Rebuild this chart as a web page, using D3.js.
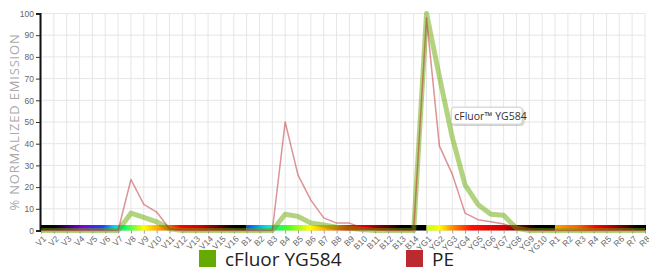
<!DOCTYPE html>
<html>
<head>
<meta charset="utf-8">
<script src="https://cdn.jsdelivr.net/npm/d3@7"></script>
<style>
  body { margin: 0; background: #fff; }
  svg { display: block; font-family: "Open Sans", sans-serif; }
  .grid line { stroke: #e6e6e6; stroke-width: 1; }
  .tick text { fill: #666; }
</style>
</head>
<body>
<div id="chart"></div>
<script>

var categories = ["V1","V2","V3","V4","V5","V6","V7","V8","V9","V10","V11","V12","V13","V14","V15","V16",
	"B1","B2","B3","B4","B5","B6","B7","B8","B9","B10","B11","B12","B13","B14",
	"YG1","YG2","YG3","YG4","YG5","YG6","YG7","YG8","YG9","YG10",
	"R1","R2","R3","R4","R5","R6","R7","R8"];

var cfluorValues = [0,0,0,0,0,0,0,8,6,4,0.8,0,0,0,0,0,
	0,0,0,7.5,6.5,3.5,2.5,1.5,1,0.5,0,0,0,0,
	100,71,43,21,12,7.5,7,1,0,0,
	0,0,0,0,0,0,0,0];

var peValues = [0,0,0,0,0,0,0,23.5,12,8.5,0.8,0,0,0,0,0,
	0,0,0,50,25.5,14,5.8,3.4,3.4,1.2,0.3,0,0,0,
	98,39,26,8,5,4,3,1,0,0,
	0,0,0,0,0,0,0,0];

var yTicks = [0,10,20,30,40,50,60,70,80,90,100];

// laser groups: first channel of each and the spectrum stops under them
var laserGroups = ["V1","B1","YG1","R1"];
var spectrumStops = [
	[[0,"#000000"],[0.07,"#0a0014"],[0.2,"#7a00e0"],[0.3,"#2040ff"],[0.36,"#00d8ff"],[0.41,"#10ff60"],
	 [0.5,"#ffff00"],[0.6,"#ff8000"],[0.68,"#ff0000"],[0.78,"#d00000"],[0.88,"#500000"],[0.95,"#000000"],[1,"#000000"]],
	[[0,"#0050ff"],[0.11,"#00e0f0"],[0.22,"#40ff20"],[0.35,"#ffff00"],[0.48,"#ff8000"],[0.56,"#ff0000"],
	 [0.66,"#d80000"],[0.78,"#600000"],[0.86,"#000000"],[1,"#000000"]],
	[[0,"#c0ff20"],[0.1,"#ffff00"],[0.2,"#ff9000"],[0.35,"#ff1000"],[0.6,"#d00000"],[0.75,"#600000"],
	 [0.86,"#000000"],[1,"#000000"]],
	[[0,"#ffa000"],[0.25,"#ff6000"],[0.45,"#ff0000"],[0.6,"#c00000"],[0.8,"#500000"],[0.9,"#000000"],[1,"#000000"]]
];

var series = [
	{name: "cFluor YG584", values: cfluorValues, color: "#66aa00", width: 5, opacity: 0.5},
	{name: "PE", values: peValues, color: "#bb2a2e", width: 1.5, opacity: 0.5}
];

(function(){

	var width = 649, height = 271;
	var mLeft = 41, mRight = 645, mTop = 13.5, mBottom = 230.5;

	var svg = d3.select("#chart").append("svg")
		.attr("width", width).attr("height", height);

	var x = d3.scalePoint().domain(categories).range([mLeft, mRight]);
	var y = d3.scaleLinear().domain([0, 100]).range([mBottom, mTop]);

	// grid
	var grid = svg.append("g").attr("class", "grid");
	grid.selectAll(".v").data(categories).enter().append("line")
		.attr("x1", function(d){ return x(d); }).attr("x2", function(d){ return x(d); })
		.attr("y1", y(100)).attr("y2", y(0));
	grid.selectAll(".h").data(yTicks).enter().append("line")
		.attr("x1", mLeft).attr("x2", mRight)
		.attr("y1", function(d){ return y(d); }).attr("y2", function(d){ return y(d); });

	// spectrum bar
	var defs = svg.append("defs");
	laserGroups.forEach(function(g, i){
		var x0 = x(g);
		var x1 = i < laserGroups.length - 1 ? x(laserGroups[i+1]) : mRight + 1;
		var grad = defs.append("linearGradient")
			.attr("id", "spec" + i)
			.attr("gradientUnits", "userSpaceOnUse")
			.attr("x1", x0).attr("x2", x1).attr("y1", 0).attr("y2", 0);
		grad.selectAll("stop").data(spectrumStops[i]).enter().append("stop")
			.attr("offset", function(d){ return d[0]; })
			.attr("stop-color", function(d){ return d[1]; });
		svg.append("rect")
			.attr("x", x0).attr("width", x1 - x0)
			.attr("y", y(0) - 5.5).attr("height", 5.5)
			.attr("fill", "url(#spec" + i + ")");
	});

	// lines
	var line = d3.line()
		.x(function(d, i){ return x(categories[i]); })
		.y(function(d){ return y(d); });

	svg.selectAll(".series").data(series).enter().append("path")
		.attr("class", "series")
		.attr("fill", "none")
		.attr("stroke", function(d){ return d.color; })
		.attr("stroke-width", function(d){ return d.width; })
		.attr("stroke-opacity", function(d){ return d.opacity; })
		.attr("stroke-linejoin", "round")
		.attr("d", function(d){ return line(d.values); });

	// y axis
	var yAxis = svg.append("g")
		.attr("transform", "translate(" + (mLeft - 1) + ",0)")
		.call(d3.axisLeft(y).tickValues(yTicks).tickSize(4).tickPadding(2));
	yAxis.select(".domain").attr("stroke", "#111").attr("stroke-width", 2);
	yAxis.selectAll(".tick line").attr("stroke", "#333");
	yAxis.selectAll(".tick text").style("font-size", "8.5px");

	svg.append("text")
		.attr("transform", "translate(19," + ((mTop + mBottom) / 2) + ") rotate(-90)")
		.attr("text-anchor", "middle")
		.style("font-size", "13px")
		.style("letter-spacing", "0.8px")
		.attr("fill", "#aaa")
		.text("% NORMALIZED EMISSION");

	// x axis
	var xAxis = svg.append("g")
		.attr("transform", "translate(0," + y(0) + ")")
		.call(d3.axisBottom(x).tickSize(3).tickSizeOuter(0));
	xAxis.select(".domain").remove();
	xAxis.selectAll(".tick line").attr("stroke", "#999");
	xAxis.selectAll(".tick text")
		.style("font-size", "8.5px")
		.attr("fill", "#888")
		.attr("text-anchor", "end")
		.attr("dy", 0)
		.attr("y", 0)
		.attr("transform", "translate(5,9) rotate(-45)");

	// tooltip
	var tipIndex = categories.indexOf("YG3");
	var tip = svg.append("g")
		.attr("transform", "translate(" + (x("YG3") - 1) + "," + (y(cfluorValues[tipIndex]) - 30) + ")");
	defs.append("filter").attr("id", "shadow")
		.append("feDropShadow").attr("dx", 1).attr("dy", 1.5).attr("stdDeviation", 1.2)
		.attr("flood-color", "#000").attr("flood-opacity", 0.25);
	tip.append("rect")
		.attr("width", 71).attr("height", 17).attr("rx", 3)
		.attr("fill", "#fff").attr("stroke", "#ccc")
		.attr("filter", "url(#shadow)");
	tip.append("text")
		.attr("x", 3).attr("y", 12.5)
		.style("font-size", "10.5px")
		.attr("fill", "#333")
		.text("cFluor™ YG584");

	// legend
	var legendX = [199, 406];
	var legend = svg.selectAll(".legend").data(series).enter().append("g")
		.attr("class", "legend")
		.attr("transform", function(d, i){ return "translate(" + legendX[i] + ",250)"; });
	legend.append("rect")
		.attr("width", 17).attr("height", 17)
		.attr("fill", function(d, i){ return i === 0 ? "#66aa00" : "#bb2a2e"; });
	legend.append("text")
		.attr("x", 26).attr("y", 16)
		.style("font-size", "19px")
		.attr("fill", "#222")
		.text(function(d){ return d.name; });

})();

</script>
</body>
</html>
